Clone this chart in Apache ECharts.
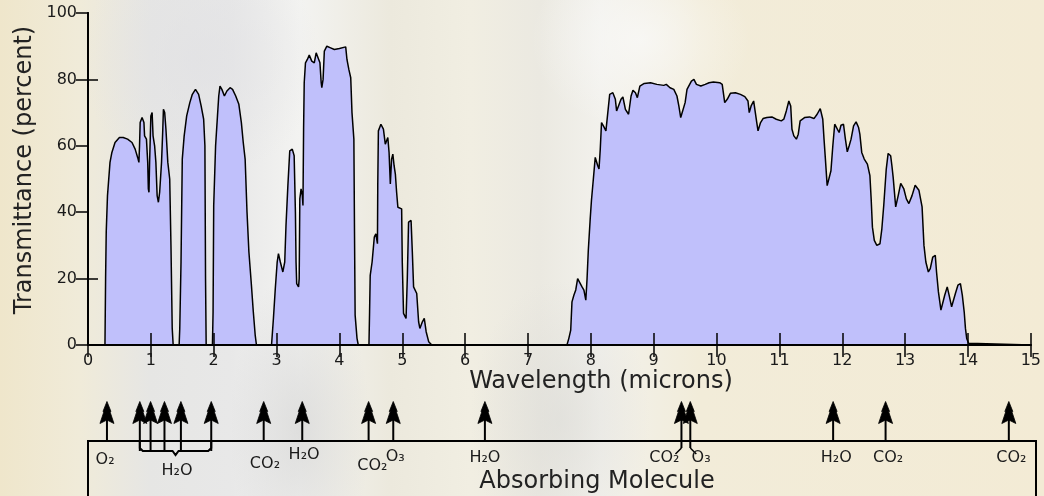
<!DOCTYPE html>
<html>
<head>
<meta charset="utf-8">
<script src="https://cdn.jsdelivr.net/npm/echarts@6/dist/echarts.min.js"></script>
<style>
  html, body { margin: 0; padding: 0; }
  body {
    width: 1044px; height: 496px; overflow: hidden;
    background:
      radial-gradient(ellipse 70px 160px at 300px 430px, rgba(205,205,205,0.55), rgba(205,205,205,0)),
      radial-gradient(ellipse 120px 120px at 200px 60px, rgba(225,225,228,0.7), rgba(225,225,228,0)),
      radial-gradient(ellipse 90px 140px at 560px 420px, rgba(215,215,212,0.5), rgba(215,215,212,0)),
      radial-gradient(ellipse 110px 90px at 640px 40px, rgba(250,250,250,0.7), rgba(250,250,250,0)),
      linear-gradient(90deg, #efe6cb 0px, #f0ebd9 80px, #e6e6e4 150px, #e8e8e8 230px, #f3f3f1 300px, #ece9dd 390px, #f1eee2 470px, #ebe9e1 540px, #f2f1ec 600px, #f2ecd9 700px, #f3ebd5 1044px);
  }
  #chart { width: 1044px; height: 496px; }
</style>
</head>
<body>
<div id="chart"></div>
<script>
// ---- data ----
const wavelength = [
  0, 0.27, 0.28, 0.29, 0.31, 0.35, 0.38, 0.43, 0.50, 0.56, 0.63, 0.70, 0.75, 0.79, 0.81, 0.82, 0.83, 0.86, 0.89, 0.90,
  0.93, 0.95, 0.96, 0.97, 0.98, 1.00, 1.02, 1.035, 1.06, 1.08, 1.10, 1.12, 1.14, 1.17, 1.19, 1.20, 1.22, 1.24, 1.27, 1.30,
  1.32, 1.34, 1.355,
  1.45, 1.46, 1.48, 1.50, 1.53, 1.57, 1.62, 1.66, 1.71, 1.76, 1.80, 1.84, 1.86, 1.87, 1.88,
  1.98, 1.99, 2.00, 2.03, 2.06, 2.08, 2.10, 2.13, 2.17, 2.21, 2.26, 2.30, 2.35, 2.40, 2.44, 2.47, 2.50, 2.53, 2.56, 2.60,
  2.63, 2.66, 2.68,
  2.92, 2.95, 2.98, 3.01, 3.03, 3.06, 3.10, 3.13, 3.15, 3.18, 3.21, 3.25, 3.28, 3.30, 3.31, 3.32, 3.35, 3.36, 3.37, 3.39,
  3.41, 3.42, 3.43, 3.44, 3.46, 3.49, 3.52, 3.56, 3.60, 3.63, 3.66, 3.69, 3.71, 3.72, 3.74, 3.76, 3.80, 3.86, 3.92, 4.00,
  4.10, 4.12, 4.15, 4.18, 4.20, 4.23, 4.24, 4.25, 4.28, 4.30,
  4.47, 4.48, 4.49, 4.52, 4.555, 4.58, 4.605, 4.61, 4.62, 4.66, 4.70, 4.73, 4.77, 4.79, 4.81, 4.83, 4.85, 4.87, 4.89, 4.91,
  4.93, 4.99, 5.00, 5.02, 5.06, 5.08, 5.10, 5.14, 5.16, 5.18, 5.23, 5.26, 5.28, 5.32, 5.35, 5.38, 5.42, 5.47,
  7.62, 7.65, 7.68, 7.70, 7.73, 7.76, 7.79, 7.82, 7.86, 7.89, 7.92, 7.94, 7.96, 7.99, 8.01, 8.04, 8.07, 8.09, 8.11, 8.13,
  8.15, 8.17, 8.20, 8.24, 8.27, 8.30, 8.35, 8.39, 8.41, 8.44, 8.48, 8.51, 8.55, 8.60, 8.64, 8.67, 8.71, 8.74, 8.78, 8.85,
  8.95, 9.05, 9.16, 9.20, 9.26, 9.32, 9.37, 9.40, 9.43, 9.46, 9.50, 9.53, 9.60, 9.64, 9.68, 9.75, 9.82, 9.88, 9.95, 10.05,
  10.09, 10.13, 10.17, 10.22, 10.30, 10.38, 10.45, 10.50, 10.52, 10.55, 10.59, 10.62, 10.64, 10.66, 10.70, 10.74, 10.80, 10.88, 10.95, 11.03,
  11.07, 11.11, 11.15, 11.18, 11.20, 11.23, 11.27, 11.30, 11.33, 11.40, 11.48, 11.55, 11.60, 11.65, 11.69, 11.71, 11.73, 11.76, 11.78, 11.82,
  11.85, 11.88, 11.91, 11.95, 11.98, 12.02, 12.05, 12.08, 12.11, 12.14, 12.18, 12.22, 12.26, 12.28, 12.31, 12.35, 12.40, 12.44, 12.46, 12.48,
  12.51, 12.55, 12.60, 12.63, 12.66, 12.70, 12.73, 12.77, 12.79, 12.81, 12.85, 12.89, 12.93, 12.98, 13.02, 13.06, 13.11, 13.16, 13.22, 13.27,
  13.30, 13.33, 13.37, 13.40, 13.44, 13.48, 13.50, 13.53, 13.57, 13.60, 13.63, 13.67, 13.70, 13.74, 13.77, 13.80, 13.84, 13.88, 13.91, 13.94,
  13.96, 13.98, 14.01, 14.02, 15
];
const transmittance = [
  0, 0, 20, 34, 45, 55, 58, 61, 62.5, 62.5, 62, 61, 59, 56.5, 55, 60, 67, 68.5, 67, 63,
  62, 55, 47, 46, 55, 69, 70, 63, 60, 55, 45, 43, 46, 55, 65, 71, 70, 65, 55, 50,
  30, 5, 0,
  0, 5, 25, 56, 63, 69, 73, 75.5, 77, 75.5, 72, 68, 60, 20, 0,
  0, 10, 42, 60, 69, 75, 78, 77, 75, 76.5, 77.5, 77, 75, 72.5, 67, 61, 56, 40, 28, 18,
  10, 3, 0,
  0, 8, 17, 25, 27.5, 25, 22, 25, 36, 48, 58.5, 59, 57, 40, 25, 18.5, 17.5, 20, 44, 47,
  45, 42, 65, 79, 85, 86, 87.3, 85.5, 85, 88, 88.5, 85, 79, 77.5, 80, 88.5, 90, 89.5, 89, 89.3,
  89.8, 86, 83, 80.5, 70, 62, 34, 9, 2, 0,
  0, 10, 21, 25, 32.5, 33.5, 30.5, 48, 64.5, 66.5, 65, 60.5, 62.5, 58, 48.5, 56, 57.5, 54, 51.5, 46,
  41.5, 41, 25, 9.5, 8, 20, 37, 37.5, 28, 17.5, 15.5, 7, 5, 7, 8, 4, 1, 0,
  0, 2, 4.5, 13, 15, 16.6, 20, 20, 17.5, 16.5, 13.5, 20, 28.6, 38, 43.6, 50, 56.5, 57, 54, 53,
  59, 67, 66, 64.5, 70, 75.5, 76, 74, 70.5, 72, 74, 74.7, 71, 69.5, 75, 76.7, 76, 74.5, 78, 78.8,
  79, 78.5, 78.2, 78.5, 77.5, 77, 75, 72, 68.5, 68.5, 73, 77, 79.5, 80, 78.5, 78, 78.5, 79, 79.2, 79,
  78.5, 73, 74, 75.8, 76, 75.5, 74.8, 73.5, 70, 72, 73.5, 73, 67, 64.5, 67, 68.2, 68.5, 68.7, 68, 67.5,
  68, 70.5, 73.5, 72, 65, 63, 62, 63.5, 67.5, 68.5, 68.7, 68.2, 69.5, 71.2, 68, 62, 56.5, 48, 48.5, 52.5,
  60, 66.5, 66, 64, 66.2, 66.5, 62, 58.2, 60, 62, 66, 67.2, 65.5, 63.5, 58, 56, 54.5, 51, 44, 35.5,
  31.5, 30, 30.5, 35, 42, 53, 57.7, 57, 54, 50.5, 41.6, 45, 48.7, 47, 44, 42.6, 45, 48.1, 46.6, 41.6,
  30, 25, 22, 23, 26.5, 27, 22, 16, 10.5, 10.5, 15, 17.5, 15, 11.5, 12, 15.5, 18, 18.5, 15, 10,
  5, 2, 0.5, 0, 0
];
const xTicks = [0, 15, 1];          // min, max, interval (microns)
const yTicks = [0, 100, 20];        // min, max, interval (percent)
// absorption arrows (microns)
const arrowWavelengths = [0.30, 0.82, 0.99, 1.21, 1.47, 1.95, 2.78, 3.39, 4.44, 4.83, 6.28, 9.39, 9.53, 11.79, 12.62, 14.57];
const h2oGroup = [0.82, 1.95];
// molecule labels: name and wavelength position
const moleculeNames = ['O₂', 'H₂O', 'CO₂', 'H₂O', 'CO₂', 'O₃', 'H₂O', 'CO₂', 'O₃', 'H₂O', 'CO₂', 'CO₂'];
const moleculeAt = [0.27, 1.41, 2.80, 3.42, 4.50, 4.86, 6.28, 9.12, 9.70, 11.84, 12.66, 14.61];

// ---- layout / style (not data) ----
const stemDrop = [0, 10, 10, 10, 10, 10, 0, 0, 0, 0, 0, 7, 7, 0, 0, 0];
const leaderDir = [0, 0, 0, 0, 0, 0, 0, 0, 0, 0, 0, -1, 1, 0, 0, 0];
const labelDy = [19, 30, 23, 14, 25, 16, 17, 17, 17, 17, 17, 17];
const FONT = "'DejaVu Sans', Verdana, sans-serif";
const INK = '#1a1a1a';

const seriesData = wavelength.map((w, i) => [w, transmittance[i]]);

const chart = echarts.init(document.getElementById('chart'), null, { renderer: 'canvas' });

function arrowItem(params, api) {
  const p = api.coord([api.value(0), 1]);
  const cx = p[0], ly = p[1];
  const i = params.dataIndex;
  const ax = cx, ay = ly - 39.5;
  const head = [[0, 0], [4, 10], [3, 10], [7, 22], [1, 19], [-1, 19], [-7, 22], [-3, 10], [-4, 10]]
    .map(q => [ax + q[0], ay + q[1]]);
  const children = [
    { type: 'line', shape: { x1: cx, y1: ay + 12, x2: cx, y2: ly + stemDrop[i] }, style: { stroke: '#000', lineWidth: 2 } },
    { type: 'polygon', shape: { points: head }, style: { fill: '#000', stroke: '#000', lineWidth: 0.8 } }
  ];
  if (leaderDir[i] !== 0) {
    children.push({ type: 'line', shape: { x1: cx, y1: ly + stemDrop[i], x2: cx + leaderDir[i] * 6, y2: ly + stemDrop[i] + 6 },
      style: { stroke: '#000', lineWidth: 1.5 } });
  }
  return { type: 'group', children };
}

function braceItem(params, api) {
  const a = api.coord([api.value(0), 1]);
  const b = api.coord([api.value(1), 1]);
  const ly = a[1], x1 = a[0], x2 = b[0], xm = (x1 + x2) / 2;
  return {
    type: 'polyline',
    shape: { points: [[x1, ly], [x1, ly + 7], [x1 + 3, ly + 10], [xm - 3, ly + 10], [xm, ly + 14], [xm + 3, ly + 10], [x2 - 3, ly + 10], [x2, ly + 7], [x2, ly]] },
    style: { stroke: '#000', lineWidth: 2, fill: null }
  };
}

function boxItem(params, api) {
  const a = api.coord([xTicks[0], 1]);
  const b = api.coord([xTicks[1], 1]);
  return {
    type: 'polyline',
    shape: { points: [[a[0], a[1] + 100], [a[0], a[1]], [b[0], b[1]], [b[0], b[1] + 100]] },
    style: { stroke: '#000', lineWidth: 2, fill: null }
  };
}

function labelItem(params, api) {
  const p = api.coord([api.value(0), 1]);
  return {
    type: 'text', x: p[0], y: p[1] + labelDy[params.dataIndex],
    style: { text: moleculeNames[params.dataIndex], align: 'center', verticalAlign: 'middle',
      fontSize: 16, fontFamily: FONT, fill: INK }
  };
}

const axisLineStyle = { lineStyle: { color: '#000', width: 2 } };

chart.setOption({
  backgroundColor: 'transparent',
  animation: false,
  grid: [
    { left: 88, right: 8, top: 13, bottom: 151, show: false },
    { left: 88, right: 8, top: 441, bottom: 0, show: false }
  ],
  xAxis: [
    { type: 'value', gridIndex: 0, position: 'bottom', min: xTicks[0], max: xTicks[1], interval: xTicks[2], z: 5,
      axisLine: axisLineStyle, axisTick: { inside: true, length: 12, lineStyle: { color: '#000', width: 1.5 } },
      axisLabel: { fontSize: 16, fontFamily: FONT, color: INK, margin: 8 }, splitLine: { show: false } },
    { type: 'value', gridIndex: 0, position: 'top', min: xTicks[0], max: xTicks[1], interval: xTicks[2], z: 5,
      axisLine: axisLineStyle, axisTick: { inside: true, length: 12, lineStyle: { color: '#000', width: 1.5 } },
      axisLabel: { show: false }, splitLine: { show: false } },
    { type: 'value', gridIndex: 1, min: xTicks[0], max: xTicks[1], show: false }
  ],
  yAxis: [
    { type: 'value', gridIndex: 0, position: 'left', min: yTicks[0], max: yTicks[1], interval: yTicks[2], z: 5,
      axisLine: { show: true, lineStyle: { color: '#000', width: 2 } },
      axisTick: { show: true, inside: true, length: 10, customValues: [20, 80], lineStyle: { color: '#000', width: 1.5 } },
      axisLabel: { fontSize: 16, fontFamily: FONT, color: INK, margin: 11 }, splitLine: { show: false } },
    { type: 'value', gridIndex: 0, position: 'right', min: yTicks[0], max: yTicks[1], interval: yTicks[2], z: 5,
      axisLine: { show: true, lineStyle: { color: '#000', width: 2 } },
      axisTick: { show: true, inside: true, length: 12, lineStyle: { color: '#000', width: 1.5 } },
      axisLabel: { show: false }, splitLine: { show: false } },
    { type: 'value', gridIndex: 1, min: 0, max: 1, show: false }
  ],
  series: [
    { type: 'line', xAxisIndex: 0, yAxisIndex: 0, data: seriesData, showSymbol: false, symbol: 'none',
      lineStyle: { color: '#000', width: 1.5 }, areaStyle: { color: '#c0c0fb', opacity: 1 }, z: 2 },
    { type: 'custom', xAxisIndex: 2, yAxisIndex: 2, data: [[0]], renderItem: boxItem, clip: false, silent: true },
    { type: 'custom', xAxisIndex: 2, yAxisIndex: 2, data: arrowWavelengths.map(w => [w]), renderItem: arrowItem, clip: false, silent: true },
    { type: 'custom', xAxisIndex: 2, yAxisIndex: 2, data: [h2oGroup], renderItem: braceItem, clip: false, silent: true },
    { type: 'custom', xAxisIndex: 2, yAxisIndex: 2, data: moleculeAt.map(w => [w]), renderItem: labelItem, clip: false, silent: true }
  ],
  graphic: [
    { type: 'text', x: 25, y: 170, rotation: Math.PI / 2,
      style: { text: 'Transmittance (percent)', align: 'center', verticalAlign: 'middle', fontSize: 24, fontFamily: FONT, fill: '#222' } },
    { type: 'text', x: 601, y: 382,
      style: { text: 'Wavelength (microns)', align: 'center', verticalAlign: 'middle', fontSize: 24, fontFamily: FONT, fill: '#222' } },
    { type: 'text', x: 597, y: 482,
      style: { text: 'Absorbing Molecule', align: 'center', verticalAlign: 'middle', fontSize: 24, fontFamily: FONT, fill: '#222' } }
  ]
});
</script>
</body>
</html>
